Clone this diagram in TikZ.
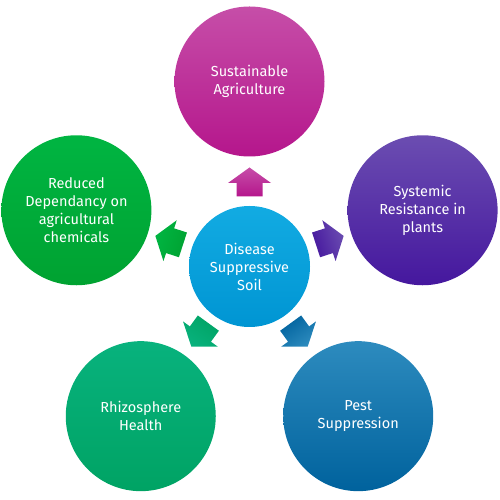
\documentclass[tikz,border=0pt]{standalone}
\usepackage{fontspec}
\setmainfont{Fira Sans}
\usetikzlibrary{calc}
\begin{document}
\begin{tikzpicture}[x=1pt,y=1pt,
  bubble/.style={circle,minimum size=150pt,inner sep=0pt,text=white,align=center,
    font=\fontsize{14.5}{18}\selectfont},
  hub/.style={bubble,minimum size=121pt},
  blockarrow/.style={draw=none}]
\definecolor{magT}{HTML}{C64EA8}\definecolor{magB}{HTML}{B5168C}
\definecolor{purT}{HTML}{6B4DB1}\definecolor{purB}{HTML}{45179E}
\definecolor{bluT}{HTML}{2D8BBE}\definecolor{bluB}{HTML}{00629D}
\definecolor{grnT}{HTML}{08B27D}\definecolor{grnB}{HTML}{00A364}
\definecolor{lgrT}{HTML}{00B542}\definecolor{lgrB}{HTML}{00A231}
\definecolor{cyaT}{HTML}{12ABE2}\definecolor{cyaB}{HTML}{0095D3}
\useasboundingbox (0,0) rectangle (500,500);
\coordinate (C) at (249.5,233.5);
\node[hub,top color=cyaT,bottom color=cyaB] (hub) at (C) {Disease\\Suppressive\\Soil};
\node[bubble,top color=magT,bottom color=magB] (top) at ($(C)+(90:185)$) {Sustainable\\Agriculture};
\node[bubble,top color=purT,bottom color=purB] (right) at ($(C)+(18:182)$) {Systemic\\Resistance in\\plants};
\node[bubble,top color=bluT,bottom color=bluB] (br) at ($(C)+(-54:185)$) {Pest\\Suppression};
\node[bubble,top color=grnT,bottom color=grnB] (bl) at ($(C)+(-126:185)$) {Rhizosphere\\Health};
\node[bubble,top color=lgrT,bottom color=lgrB] (left) at ($(C)+(162:182)$) {Reduced\\Dependancy on\\agricultural\\chemicals};
\foreach \ang/\ct/\cb in {90/magT/magB, 18/purT/purB, -54/bluT/bluB, -126/grnT/grnB, 162/lgrT/lgrB}{
  \begin{scope}[shift={(C)},rotate=\ang-90]
    \path[blockarrow,top color=\ct,bottom color=\cb,shading angle=\ang-90]
      (-13,70) -- (13,70) -- (13,83.5) -- (21.5,83.5) -- (0,99) -- (-21.5,83.5) -- (-13,83.5) -- cycle;
  \end{scope}
}
\end{tikzpicture}
\end{document}
